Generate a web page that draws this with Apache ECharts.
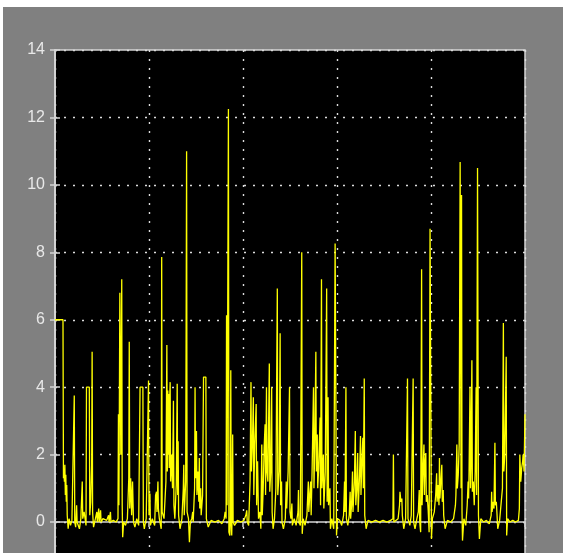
<!DOCTYPE html>
<html>
<head>
<meta charset="utf-8">
<script src="https://cdn.jsdelivr.net/npm/echarts@6/dist/echarts.min.js"></script>
<style>
  html, body { margin: 0; padding: 0; background: #fff; overflow: hidden; }
  #scope { position: absolute; left: 3px; top: 7px; width: 560px; height: 600px; }
</style>
</head>
<body>
<div id="scope"></div>
<script>
// scope trace: [time, value]
const traceA = [
  [0.00, 6.0], [0.17, 6.0], [0.18, 1.3], [0.19, 1.5], [0.20, 1.2], [0.21, 1.7], [0.22, 0.8], [0.23, 1.4],
  [0.24, 0.6], [0.25, 1.1], [0.26, 0.2], [0.28, -0.2], [0.30, 0.1], [0.33, -0.1], [0.36, 0.05], [0.41, 3.75],
  [0.42, 0.0], [0.44, -0.15], [0.46, 0.5], [0.47, 0.0], [0.52, -0.2], [0.55, 0.1], [0.58, 1.2], [0.59, 0.1],
  [0.62, 0.3], [0.66, -0.1], [0.67, 4.0], [0.73, 4.0], [0.74, 0.2], [0.76, 0.6], [0.78, 1.7], [0.79, 5.05],
  [0.80, 0.3], [0.82, -0.15], [0.86, 0.1], [0.89, 0.3], [0.90, 0.0], [0.93, 0.4], [0.94, 0.0], [0.97, 0.35],
  [0.98, 0.0], [1.02, 0.1], [1.06, 0.05], [1.10, 0.05], [1.14, 0.2], [1.15, 0.0], [1.18, 0.3], [1.19, 0.0],
  [1.24, 0.05], [1.30, 0.0], [1.34, 0.1], [1.35, 3.2], [1.36, 0.5], [1.38, 6.8], [1.40, 2.0], [1.42, 7.2],
  [1.43, 0.5], [1.44, -0.45], [1.46, 0.0], [1.50, -0.1], [1.54, 0.1], [1.57, 1.3], [1.58, 5.35], [1.59, 0.4],
  [1.61, 1.3], [1.63, 0.2], [1.65, 1.2], [1.67, 0.0], [1.70, -0.15], [1.74, 0.1], [1.78, -0.1], [1.81, 4.0],
  [1.87, 4.0], [1.88, 0.0], [1.90, -0.2], [1.94, 0.1], [1.99, 4.2], [2.00, 0.2], [2.02, 0.85], [2.03, -0.1],
  [2.07, 0.1], [2.12, -0.1], [2.14, 0.8], [2.16, 0.9], [2.17, 0.3], [2.19, 1.2], [2.20, 0.4], [2.22, 0.1],
  [2.26, -0.2], [2.27, 7.86], [2.28, 0.3], [2.32, 0.1], [2.36, 1.2], [2.38, 5.25], [2.39, 1.5], [2.40, 3.9],
  [2.41, 2.0], [2.42, 3.8], [2.43, 1.6], [2.44, 3.6], [2.45, 4.15], [2.46, 1.2], [2.48, 2.0]
];
const traceB = [
  [2.50, 1.0], [2.52, 3.6], [2.53, 0.5], [2.55, 0.1], [2.58, 1.1], [2.60, 4.1], [2.61, 0.8], [2.62, 2.4],
  [2.63, 0.2], [2.66, -0.2], [2.70, 0.1], [2.73, 1.0], [2.74, 1.7], [2.75, 0.2], [2.78, 1.2], [2.79, 5.75],
  [2.80, 11.0], [2.81, 0.3], [2.84, 0.1], [2.86, -0.6], [2.88, 0.0], [2.91, 0.1], [2.93, 0.3], [2.94, 0.0],
  [2.97, 1.0], [2.98, 4.0], [2.99, 1.3], [3.01, 2.7], [3.02, 0.8], [3.04, 1.5], [3.06, 0.6], [3.07, 1.9],
  [3.08, 0.4], [3.10, 1.0], [3.11, 0.2], [3.14, 0.8], [3.16, 4.3], [3.21, 4.3], [3.22, 0.1], [3.26, -0.15],
  [3.32, 0.05], [3.40, 0.0], [3.48, 0.05], [3.55, -0.05], [3.60, 0.1], [3.62, 0.3], [3.64, 0.1], [3.65, 6.13],
  [3.66, 0.5], [3.69, 12.25], [3.70, -0.3], [3.72, -0.4], [3.73, 0.2], [3.74, 4.5], [3.75, 0.0], [3.76, -0.4],
  [3.77, 0.3], [3.78, 2.6], [3.79, 0.0], [3.82, -0.1], [3.88, 0.05], [3.96, 0.0], [4.02, 0.05], [4.06, 0.2],
  [4.08, 0.35], [4.09, 0.0], [4.12, -0.1], [4.15, 1.2], [4.17, 4.15], [4.18, 1.5], [4.20, 2.3], [4.22, 3.7],
  [4.23, 0.8], [4.25, 2.3], [4.28, 3.5], [4.29, 0.5], [4.31, 1.8], [4.33, 0.1], [4.36, 0.3], [4.38, -0.2],
  [4.40, 2.3], [4.41, 0.2], [4.43, 1.0], [4.45, 2.2], [4.47, 2.9], [4.48, 0.8], [4.50, 4.0], [4.51, 1.5],
  [4.53, 1.2], [4.56, 4.7], [4.57, 0.9], [4.59, 1.5], [4.61, 4.0], [4.62, 0.3], [4.64, -0.2], [4.67, 0.1],
  [4.70, 1.0], [4.73, 6.93], [4.74, 0.8], [4.77, 1.5], [4.79, 5.6], [4.80, 0.5], [4.82, 1.2], [4.83, 0.0],
  [4.86, -0.2], [4.90, 0.1], [4.92, 1.2], [4.93, 0.4], [4.96, 1.5], [4.99, 4.0]
];
const traceC = [
  [5.00, 0.3], [5.02, 0.1], [5.04, 0.55], [5.05, -0.1], [5.09, 0.1], [5.13, -0.1], [5.17, 0.3], [5.18, 0.95],
  [5.19, 0.0], [5.22, -0.1], [5.25, 8.0], [5.26, -0.35], [5.28, 0.1], [5.32, -0.1], [5.36, 0.2], [5.39, 1.2],
  [5.40, 0.3], [5.42, 0.8], [5.44, 1.2], [5.45, 0.2], [5.47, 1.5], [5.50, 4.0], [5.51, 1.0], [5.53, 2.5],
  [5.55, 5.05], [5.56, 1.5], [5.58, 2.6], [5.59, 1.0], [5.61, 1.6], [5.64, 3.1], [5.65, 0.5], [5.67, 7.2],
  [5.68, 1.0], [5.71, 2.0], [5.72, 0.4], [5.75, 1.5], [5.78, 6.93], [5.79, 0.6], [5.81, 3.7], [5.82, 0.5],
  [5.85, 1.0], [5.86, -0.2], [5.89, 0.1], [5.93, -0.2], [5.96, 8.26], [5.99, -0.4], [6.01, 0.1], [6.06, 0.05],
  [6.10, -0.1], [6.14, 0.2], [6.16, 1.2], [6.17, 0.3], [6.19, 4.0], [6.20, 0.1], [6.23, -0.1], [6.26, 0.2],
  [6.28, 0.9], [6.29, 0.1], [6.31, 0.5], [6.33, 1.5], [6.34, 0.3], [6.37, 1.2], [6.39, 2.7], [6.40, 0.5],
  [6.42, 1.0], [6.44, 2.05], [6.45, 0.3], [6.48, 1.4], [6.50, 2.55], [6.51, 0.8], [6.53, 1.8], [6.55, 2.5],
  [6.56, 1.0], [6.58, 4.26], [6.59, 0.2], [6.62, -0.2], [6.66, 0.05], [6.74, 0.0], [6.82, 0.05], [6.90, 0.0],
  [6.98, 0.05], [7.06, 0.0], [7.14, 0.05], [7.19, 0.1], [7.20, 2.0], [7.21, 0.0], [7.25, -0.05], [7.30, 0.1],
  [7.33, 0.5], [7.34, 0.9], [7.36, 0.6], [7.38, 0.7], [7.39, 0.2], [7.42, -0.2], [7.46, 0.1]
];
const traceD = [
  [7.50, 4.26], [7.51, 0.1], [7.55, -0.1], [7.58, 0.2], [7.62, 4.26], [7.63, 0.0], [7.66, -0.2], [7.70, 0.1],
  [7.73, 0.3], [7.75, 0.95], [7.76, 0.0], [7.78, -0.3], [7.80, 7.5], [7.81, 0.5], [7.83, 1.5], [7.85, 2.3],
  [7.86, 0.8], [7.87, 1.6], [7.89, 2.05], [7.90, 0.6], [7.92, 0.8], [7.94, 0.35], [7.96, -0.3], [7.98, 8.7],
  [8.01, -0.5], [8.03, 0.1], [8.07, 0.3], [8.10, 0.8], [8.12, 1.45], [8.13, 0.6], [8.15, 1.1], [8.17, 0.5],
  [8.18, 1.9], [8.19, 0.7], [8.21, 1.2], [8.23, 1.7], [8.24, 0.6], [8.26, 0.95], [8.27, 0.2], [8.30, -0.2],
  [8.35, 0.05], [8.42, 0.0], [8.48, 0.1], [8.52, 0.5], [8.53, 0.8], [8.55, 2.3], [8.56, 1.0], [8.58, 1.4],
  [8.60, 2.3], [8.62, 10.68], [8.64, 1.0], [8.65, 9.7], [8.66, 0.3], [8.67, -0.55], [8.70, 0.1], [8.74, -0.1],
  [8.77, 0.5], [8.79, 1.2], [8.80, 0.7], [8.81, 1.5], [8.83, 4.0], [8.84, 1.0], [8.85, 1.6], [8.87, 4.8],
  [8.88, 0.9], [8.90, 1.2], [8.92, 0.5], [8.94, 1.5], [8.96, 4.0], [8.97, 0.8], [8.99, 10.5], [9.01, 0.2],
  [9.03, -0.5], [9.06, 0.1], [9.12, 0.0], [9.18, 0.05], [9.24, -0.05], [9.28, 0.2], [9.29, 0.9], [9.30, 0.3],
  [9.32, 0.6], [9.34, 0.4], [9.36, 2.35], [9.37, 0.5], [9.39, 0.6], [9.40, 0.35], [9.42, -0.2], [9.46, 0.05],
  [9.50, 0.1], [9.52, 1.0], [9.54, 5.9], [9.55, 1.5], [9.57, 2.0], [9.60, 4.9], [9.61, -0.4], [9.63, 0.1],
  [9.68, 0.0], [9.74, 0.05], [9.80, 0.0], [9.86, 0.05], [9.88, 0.4], [9.89, 2.0], [9.91, 1.2], [9.93, 1.6],
  [9.95, 1.8], [9.96, 2.0], [9.98, 1.5], [10.0, 3.2]
];
const yMin = -2, yMax = 14, yStep = 2;
const xMin = 0, xMax = 10, xStep = 2;

// the div is taller than the window, so the bottom of the scope gets cut off like in the photo
let scope = echarts.init(document.getElementById('scope'));
const gridDots = { color: '#dcdcdc', width: 1.4, type: [2, 7] };
const frame = { color: '#d4d4d4', width: 1.5 };

let option = {
    animation: false,
    backgroundColor: '#808080',
    grid: {
        left: 52, top: 43, width: 470, height: 539.5,
        show: true,
        backgroundColor: '#000',
        borderColor: '#d4d4d4',
        borderWidth: 1.5
    },
    xAxis: [
        {
            type: 'value', min: xMin, max: xMax, interval: xStep, position: 'bottom',
            axisLine: { show: false },
            axisTick: { show: false },
            axisLabel: { show: false },
            splitLine: { show: true, lineStyle: gridDots }
        },
        {
            type: 'value', min: xMin, max: xMax, interval: xStep, position: 'top',
            axisLine: { show: true, lineStyle: frame },
            axisTick: { show: true, inside: true, length: 5, lineStyle: frame },
            axisLabel: { show: false },
            splitLine: { show: false }
        }
    ],
    yAxis: [
        {
            type: 'value', min: yMin, max: yMax, interval: yStep, position: 'left',
            axisLine: { show: true, lineStyle: frame },
            axisTick: { show: true, inside: true, length: 5, lineStyle: frame },
            axisLabel: {
                color: '#e8e8e8', fontSize: 16, fontFamily: 'Liberation Sans, Arial, sans-serif',
                margin: 10,
                formatter: v => (v < 0 ? '' : String(v))
            },
            splitLine: { show: true, lineStyle: gridDots }
        },
        {
            type: 'value', min: yMin, max: yMax, interval: yStep, position: 'right',
            axisLine: { show: true, lineStyle: frame },
            axisTick: { show: true, inside: true, length: 5, lineStyle: frame },
            axisLabel: { show: false },
            splitLine: { show: false }
        }
    ],
    series: [
        {
            name: 'trace',
            type: 'line',
            xAxisIndex: 0,
            yAxisIndex: 0,
            showSymbol: false,
            symbol: 'none',
            sampling: false,
            clip: true,
            lineStyle: { color: '#ffff00', width: 1.3 },
            data: traceA.concat(traceB, traceC, traceD)
        }
    ]
};

scope.setOption(option);
</script>
</body>
</html>
